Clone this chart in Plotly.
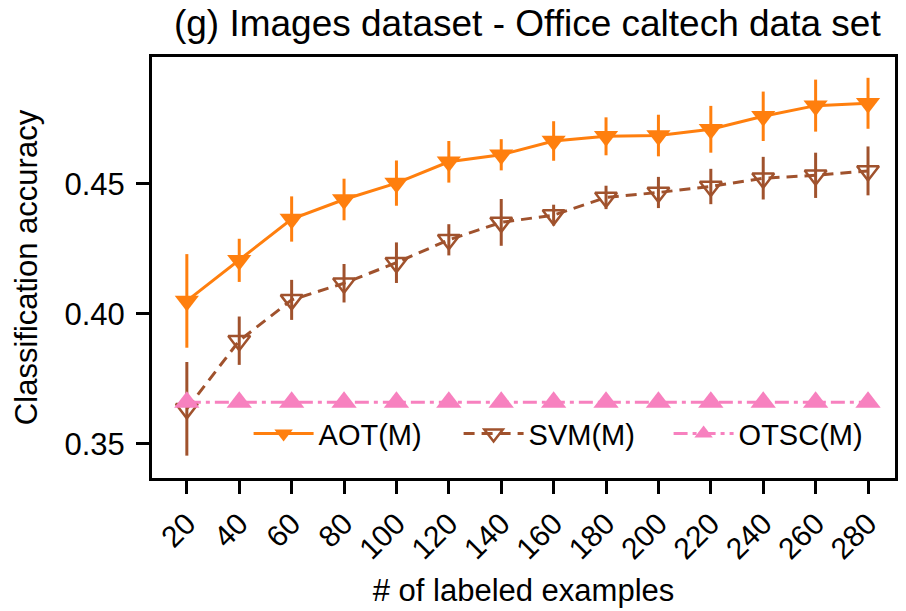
import plotly.graph_objects as go

x_vals = [20, 40, 60, 80, 100, 120, 140, 160, 180, 200, 220, 240, 260, 280]
aot_mean = [0.405, 0.4206, 0.4365, 0.4440, 0.4503, 0.4585, 0.4612, 0.4665, 0.4683, 0.4686, 0.4710, 0.4760, 0.4801, 0.4810]
aot_err = [0.018, 0.0083, 0.0087, 0.0080, 0.0087, 0.0080, 0.0060, 0.0076, 0.0073, 0.0080, 0.0090, 0.0095, 0.0100, 0.0098]
svm_mean = [0.3635, 0.3897, 0.4054, 0.4118, 0.4197, 0.4285, 0.4352, 0.4380, 0.4448, 0.4467, 0.4490, 0.4522, 0.4533, 0.4550]
svm_err = [0.018, 0.0093, 0.0077, 0.0074, 0.0078, 0.0060, 0.0090, 0.0040, 0.0045, 0.0060, 0.0068, 0.0082, 0.0087, 0.0094]
otsc_mean = [0.3660] * 14
otsc_err = [0.0] * 14

tick_labels = [str(v) for v in x_vals]
y_ticks = [0.35, 0.40, 0.45]
y_tick_labels = ["0.35", "0.40", "0.45"]

ORANGE = "#ff7f0e"
BROWN = "#a0522d"
PINK = "#f781bf"
FONT = "Liberation Sans, Arial, sans-serif"

fig = go.Figure()
fig.add_trace(go.Scatter(
    x=x_vals, y=aot_mean, name="AOT(M)", mode="lines+markers",
    line=dict(color=ORANGE, width=3),
    marker=dict(symbol="triangle-down", size=21, color=ORANGE),
    error_y=dict(type="data", array=aot_err, visible=True, color=ORANGE, thickness=3, width=0),
))
fig.add_trace(go.Scatter(
    x=x_vals, y=svm_mean, name="SVM(M)", mode="lines+markers",
    line=dict(color=BROWN, width=3, dash="11px,7px"),
    marker=dict(symbol="triangle-down-open", size=19, color=BROWN, line=dict(width=2.5, color=BROWN)),
    error_y=dict(type="data", array=svm_err, visible=True, color=BROWN, thickness=3, width=0),
))
fig.add_trace(go.Scatter(
    x=x_vals, y=otsc_mean, name="OTSC(M)", mode="lines+markers",
    line=dict(color=PINK, width=3, dash="14px,5px,4px,5px"),
    marker=dict(symbol="triangle-up", size=22, color=PINK),
    error_y=dict(type="data", array=otsc_err, visible=True, color=PINK, thickness=3, width=0),
))

fig.update_layout(
    width=906, height=611,
    margin=dict(l=152, r=8, t=57, b=133),
    paper_bgcolor="white", plot_bgcolor="white",
    font=dict(family=FONT, color="black", size=28),
    title=dict(text="(g) Images dataset - Office caltech data set", x=0.582, xanchor="center",
               y=0.962, yanchor="middle", font=dict(size=37, family=FONT)),
    showlegend=True,
    legend=dict(orientation="h", x=0.13, y=0.045, xanchor="left", yanchor="bottom",
                bgcolor="rgba(255,255,255,0)", font=dict(size=29, family=FONT),
                itemwidth=60, entrywidth=135, entrywidthmode="pixels",
                tracegroupgap=0, traceorder="normal"),
)
fig.update_xaxes(
    range=[6.7, 290.3], tickmode="array", tickvals=x_vals, ticktext=tick_labels,
    tickangle=-45, ticks="outside", ticklen=13, tickwidth=2.5, tickcolor="black",
    showline=True, linecolor="black", linewidth=3, mirror=True, showgrid=False, zeroline=False,
    tickfont=dict(size=30), title=dict(text="# of labeled examples", font=dict(size=31), standoff=16),
)
fig.update_yaxes(
    range=[0.3369, 0.4988], tickmode="array", tickvals=y_ticks, ticktext=y_tick_labels,
    ticks="outside", ticklen=13, tickwidth=2.5, tickcolor="black", ticklabelstandoff=5,
    showline=True, linecolor="black", linewidth=3, mirror=True, showgrid=False, zeroline=False,
    tickfont=dict(size=31), title=dict(text="Classification accuracy", font=dict(size=31), standoff=18),
)
fig.write_html("out.html")
